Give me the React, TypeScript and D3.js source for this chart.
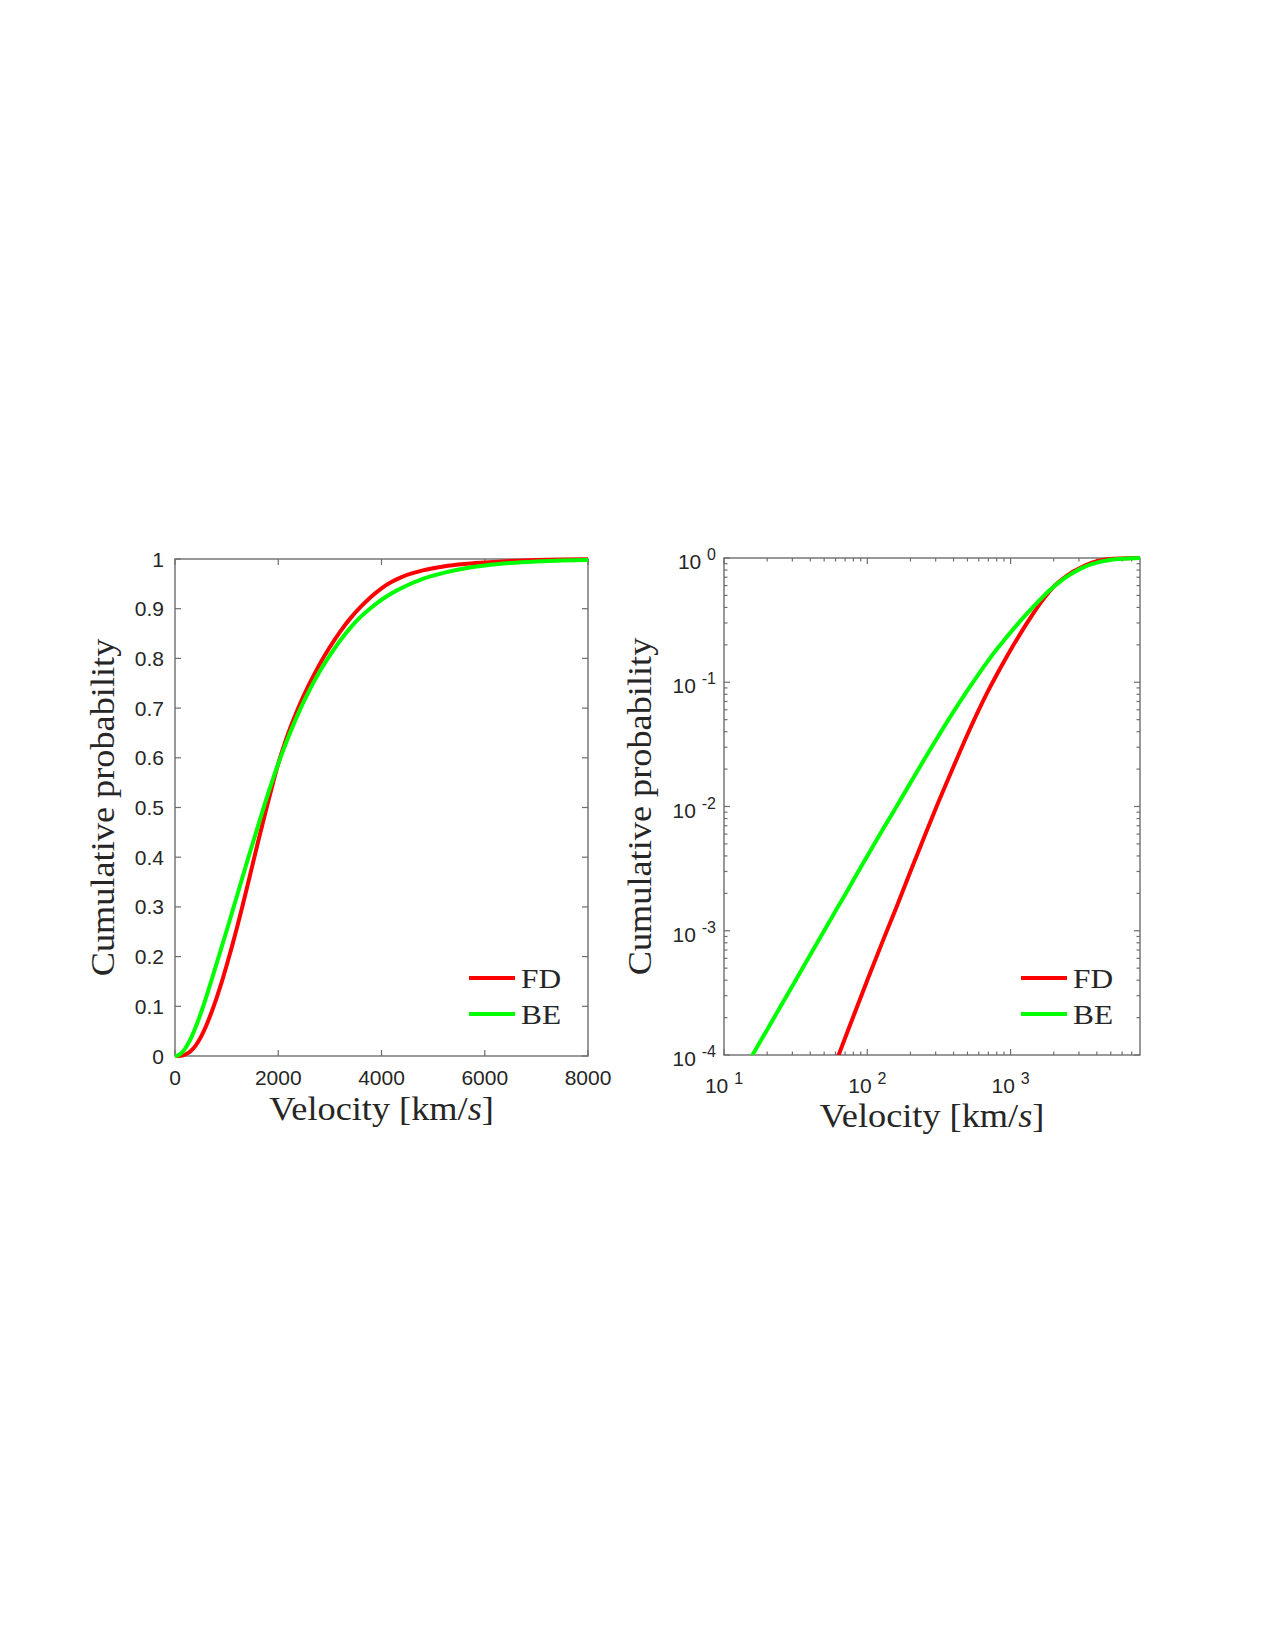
import { useEffect, useRef } from 'react';
import * as d3 from 'd3';

// Velocity grid [km/s] and cumulative probability for each statistic
const velocity = [
    0, 10, 15, 20, 30, 40, 50, 60, 70, 80, 100, 130, 160, 200, 250, 300, 400, 500, 600, 700,
    800, 900, 1000, 1100, 1200, 1300, 1400, 1500, 1600, 1700, 1800, 1900, 2000, 2100, 2200, 2300,
    2400, 2600, 2800, 3000, 3200, 3400, 3600, 3800, 4000, 4200, 4400, 4800, 5200, 5600, 6000, 6500,
    7000, 7500, 8000,
];
const fdProb = [
    0, 4e-7, 1.35e-6, 3.2e-6, 1.08e-5, 2.56e-5, 5.0e-5, 8.6e-5, 1.37e-4, 2.05e-4, 4.0e-4, 8.6e-4,
    1.55e-3, 3.0e-3, 5.7e-3, 9.6e-3, 2.1e-2, 3.8e-2, 0.060, 0.086,
    0.115, 0.147, 0.182, 0.219, 0.258, 0.299, 0.341, 0.384, 0.427, 0.469, 0.510, 0.550, 0.588, 0.621,
    0.651, 0.678, 0.703, 0.748, 0.788, 0.823, 0.854, 0.881, 0.904, 0.924, 0.941, 0.954, 0.964, 0.977,
    0.985, 0.990, 0.993, 0.996, 0.998, 0.999, 0.9995,
];
const beProb = [
    0, 4.0e-5, 9.0e-5, 1.6e-4, 3.6e-4, 6.4e-4, 1.0e-3, 1.44e-3, 1.95e-3, 2.56e-3, 4.0e-3, 6.7e-3,
    1.0e-2, 1.55e-2, 2.4e-2, 3.4e-2, 5.8e-2, 0.086, 0.117, 0.150,
    0.184, 0.218, 0.252, 0.287, 0.322, 0.357, 0.392, 0.426, 0.460, 0.494, 0.527, 0.558, 0.588, 0.616,
    0.643, 0.668, 0.692, 0.735, 0.773, 0.806, 0.836, 0.862, 0.884, 0.902, 0.918, 0.931, 0.942, 0.960,
    0.972, 0.981, 0.987, 0.992, 0.995, 0.997, 0.998,
];

const seriesNames = ['FD', 'BE'];
const seriesColors = ['#ff0000', '#00ff00'];

const linXTicks = [0, 2000, 4000, 6000, 8000];
const linYTicks = [0, 0.1, 0.2, 0.3, 0.4, 0.5, 0.6, 0.7, 0.8, 0.9, 1];
const logXTicks = [10, 100, 1000];
const logYTicks = [1e-4, 1e-3, 1e-2, 1e-1, 1];

const TICK_FONT = '"Liberation Sans", Arial, sans-serif';
const LABEL_FONT = '"Liberation Serif", "Times New Roman", serif';
const AXIS_COLOR = '#6e6e6e';
const TEXT_COLOR = '#262626';

type Box = { x0: number; x1: number; y0: number; y1: number };
type G = d3.Selection<SVGGElement, unknown, null, undefined>;

function drawFrame(g: G, b: Box) {
    g.append('rect')
        .attr('x', b.x0).attr('y', b.y0)
        .attr('width', b.x1 - b.x0).attr('height', b.y1 - b.y0)
        .attr('fill', 'none')
        .attr('stroke', AXIS_COLOR)
        .attr('stroke-width', 1.4);
}

// inward ticks on all four sides (boxed axes)
function tickMarks(g: G, b: Box, xs: number[], ys: number[], len: number) {
    xs.forEach(x => {
        g.append('line').attr('x1', x).attr('x2', x).attr('y1', b.y1).attr('y2', b.y1 - len)
            .attr('stroke', AXIS_COLOR).attr('stroke-width', 1.2);
        g.append('line').attr('x1', x).attr('x2', x).attr('y1', b.y0).attr('y2', b.y0 + len)
            .attr('stroke', AXIS_COLOR).attr('stroke-width', 1.2);
    });
    ys.forEach(y => {
        g.append('line').attr('x1', b.x0).attr('x2', b.x0 + len).attr('y1', y).attr('y2', y)
            .attr('stroke', AXIS_COLOR).attr('stroke-width', 1.2);
        g.append('line').attr('x1', b.x1).attr('x2', b.x1 - len).attr('y1', y).attr('y2', y)
            .attr('stroke', AXIS_COLOR).attr('stroke-width', 1.2);
    });
}

function axisLabels(g: G, b: Box, xLabelY: number, yLabelX: number) {
    const xl = g.append('text')
        .attr('transform', `translate(${(b.x0 + b.x1) / 2},${xLabelY}) scale(1.1,1)`)
        .attr('text-anchor', 'middle')
        .attr('font-family', LABEL_FONT)
        .attr('font-size', 33)
        .attr('fill', TEXT_COLOR);
    xl.append('tspan').text('Velocity [km/');
    xl.append('tspan').attr('font-style', 'italic').text('s');
    xl.append('tspan').text(']');

    g.append('text')
        .attr('transform', `translate(${yLabelX},${(b.y0 + b.y1) / 2}) rotate(-90) scale(1.1,1)`)
        .attr('text-anchor', 'middle')
        .attr('font-family', LABEL_FONT)
        .attr('font-size', 33)
        .attr('fill', TEXT_COLOR)
        .text('Cumulative probability');
}

function legend(g: G, lineX0: number) {
    seriesNames.forEach((name, i) => {
        const y = 978 + i * 36;
        g.append('line')
            .attr('x1', lineX0).attr('x2', lineX0 + 46)
            .attr('y1', y).attr('y2', y)
            .attr('stroke', seriesColors[i])
            .attr('stroke-width', 4);
        g.append('text')
            .attr('transform', `translate(${lineX0 + 52},${y + 10}) scale(1.12,1)`)
            .attr('font-family', LABEL_FONT)
            .attr('font-size', 28)
            .attr('fill', TEXT_COLOR)
            .text(name);
    });
}

export default function App() {
    const svgRef = useRef<SVGSVGElement>(null);

    useEffect(() => {
        if (!svgRef.current) return;
        const svg = d3.select(svgRef.current);
        svg.selectAll('*').remove();

        const series = [fdProb, beProb];

        // ---- Left panel: linear axes
        const L: Box = { x0: 175, x1: 588, y0: 559, y1: 1056 };
        const xLin = d3.scaleLinear().domain([0, 8000]).range([L.x0, L.x1]);
        const yLin = d3.scaleLinear().domain([0, 1]).range([L.y1, L.y0]);
        const gL = svg.append('g');

        drawFrame(gL, L);
        tickMarks(gL, L, linXTicks.map(xLin), linYTicks.map(yLin), 6);

        linXTicks.forEach(t => {
            gL.append('text')
                .attr('x', xLin(t)).attr('y', 1085)
                .attr('text-anchor', 'middle')
                .attr('font-family', TICK_FONT).attr('font-size', 21)
                .attr('fill', TEXT_COLOR)
                .text(String(t));
        });
        linYTicks.forEach(t => {
            gL.append('text')
                .attr('x', 164).attr('y', yLin(t) + 7.5)
                .attr('text-anchor', 'end')
                .attr('font-family', TICK_FONT).attr('font-size', 21)
                .attr('fill', TEXT_COLOR)
                .text(String(t));
        });

        const lineLin = d3.line<number>()
            .x((_, i) => xLin(velocity[i]))
            .y(d => yLin(d))
            .curve(d3.curveMonotoneX);

        series.forEach((s, i) => {
            gL.append('path')
                .attr('d', lineLin(s)!)
                .attr('fill', 'none')
                .attr('stroke', seriesColors[i])
                .attr('stroke-width', 4)
                .attr('stroke-linejoin', 'round');
        });

        axisLabels(gL, L, 1120, 114);
        legend(gL, 469);

        // ---- Right panel: log-log axes
        const R: Box = { x0: 724, x1: 1140, y0: 558, y1: 1055 };
        const xLog = d3.scaleLog().domain([10, 8000]).range([R.x0, R.x1]);
        const yLog = d3.scaleLog().domain([1e-4, 1]).range([R.y1, R.y0]);
        const gR = svg.append('g');

        drawFrame(gR, R);
        tickMarks(gR, R, logXTicks.map(xLog), logYTicks.map(yLog), 6);

        const minorX: number[] = [];
        [10, 100, 1000].forEach(dec => {
            for (let m = 2; m <= 9; m++) if (m * dec < 8000) minorX.push(xLog(m * dec));
        });
        const minorY: number[] = [];
        [1e-4, 1e-3, 1e-2, 1e-1].forEach(dec => {
            for (let m = 2; m <= 9; m++) minorY.push(yLog(m * dec));
        });
        tickMarks(gR, R, minorX, minorY, 3.5);

        const powLabel = (x: number, y: number, exp: number, anchor: string) => {
            const t = gR.append('text')
                .attr('x', x).attr('y', y)
                .attr('text-anchor', anchor)
                .attr('font-family', TICK_FONT).attr('font-size', 21)
                .attr('fill', TEXT_COLOR);
            t.append('tspan').text('10 ');
            t.append('tspan').attr('dy', -9).attr('font-size', 16).text(String(exp));
        };
        logXTicks.forEach(t => powLabel(xLog(t), 1093, Math.round(Math.log10(t)), 'middle'));
        logYTicks.forEach(t => powLabel(716, yLog(t) + 11, Math.round(Math.log10(t)), 'end'));

        const defs = svg.append('defs');
        defs.append('clipPath').attr('id', 'log-clip')
            .append('rect')
            .attr('x', R.x0).attr('y', R.y0 - 4)
            .attr('width', R.x1 - R.x0 + 4).attr('height', R.y1 - R.y0 + 4);

        const pts = velocity.map((_, i) => i).filter(i => velocity[i] > 0);
        series.forEach((s, k) => {
            const lineLog = d3.line<number>()
                .x(i => xLog(velocity[i]))
                .y(i => yLog(s[i]))
                .curve(d3.curveMonotoneX);
            gR.append('path')
                .attr('d', lineLog(pts)!)
                .attr('clip-path', 'url(#log-clip)')
                .attr('fill', 'none')
                .attr('stroke', seriesColors[k])
                .attr('stroke-width', 4)
                .attr('stroke-linejoin', 'round');
        });

        axisLabels(gR, R, 1127, 651);
        legend(gR, 1021);
    }, []);

    return (
        <svg
            ref={svgRef}
            width={1275}
            height={1650}
            style={{ position: 'absolute', left: 0, top: 0, background: '#ffffff' }}
        />
    );
}
